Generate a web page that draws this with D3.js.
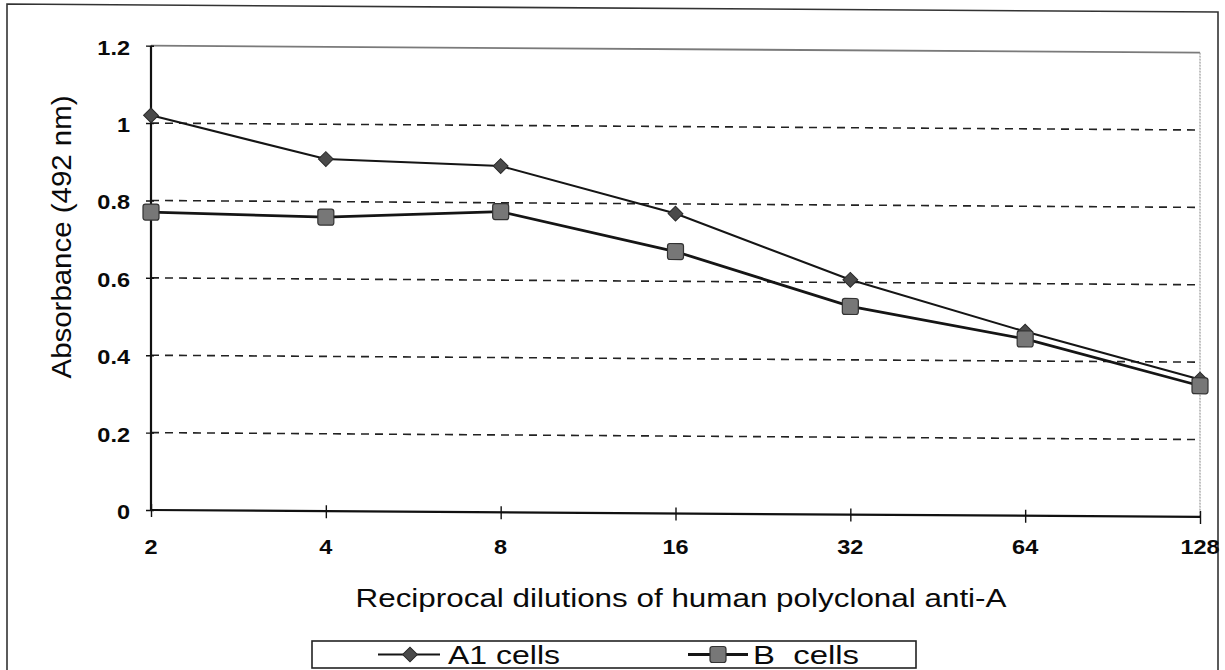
<!DOCTYPE html>
<html>
<head>
<meta charset="utf-8">
<script src="https://cdn.jsdelivr.net/npm/d3@7"></script>
<style>
  html, body { margin: 0; padding: 0; background: #fff; }
  svg { display: block; }
  text { font-family: "Liberation Sans", Arial, sans-serif; fill: #0a0a0a; white-space: pre; }
</style>
</head>
<body>
<svg id="chart" width="1225" height="670"></svg>
<script>
// Reciprocal dilutions (x categories)
const categories = ["2", "4", "8", "16", "32", "64", "128"];
// Absorbance at 492 nm for each cell type
const a1Cells = [1.02, 0.91, 0.895, 0.775, 0.607, 0.476, 0.355];
const bCells  = [0.77, 0.76, 0.777, 0.677, 0.538, 0.457, 0.339];
// Value axis ticks
const yTicks = [0, 0.2, 0.4, 0.6, 0.8, 1.0, 1.2];
const yTickLabels = ["0", "0.2", "0.4", "0.6", "0.8", "1", "1.2"];
const seriesNames = ["A1 cells", "B  cells"];

const svg = d3.select("#chart");
const W = 1225, H = 670;
const plotLeft = 151, plotRight = 1200, plotTop = 45.7, plotBottom = 510;
const slant = 0.0066;         // gentle downward slope of the page to the right
const sx = 1.12;              // horizontally widened lettering

const x = d3.scalePoint().domain(categories).range([plotLeft, plotRight]);
const y = d3.scaleLinear().domain([0, 1.2]).range([plotBottom, plotTop]);

// helper for horizontally widened text
function label(parent, px, py, str, opts = {}) {
  return parent.append("text")
    .attr("transform", `translate(${px},${py}) scale(${opts.sx || sx},1)`)
    .attr("text-anchor", opts.anchor || "middle")
    .attr("font-size", opts.size || 19)
    .attr("font-weight", opts.weight || "normal")
    .text(str);
}

// slanted layer: frame, grid, axes, series
const g = svg.append("g")
  .attr("transform", `matrix(1,${slant},0,1,0,${-slant * plotLeft})`);

// outer border of the figure
g.append("path")
  .attr("d", `M7,${H + 20} L7,5 L1218,5 L1218,${H + 20}`)
  .attr("fill", "none").attr("stroke", "#333").attr("stroke-width", 1.6);

// plot area: top and right edges
g.append("line")
  .attr("x1", plotLeft).attr("x2", plotRight).attr("y1", y(1.2)).attr("y2", y(1.2))
  .attr("stroke", "#7a7a7a").attr("stroke-width", 1.8);
g.append("line")
  .attr("x1", plotRight).attr("x2", plotRight).attr("y1", y(1.2)).attr("y2", y(0))
  .attr("stroke", "#999").attr("stroke-width", 1.2).attr("stroke-dasharray", "2,1");

// dashed gridlines
g.append("g").selectAll("line")
  .data(yTicks.filter(v => v > 0 && v < 1.2))
  .join("line")
  .attr("x1", plotLeft).attr("x2", plotRight)
  .attr("y1", d => y(d)).attr("y2", d => y(d))
  .attr("stroke", "#222").attr("stroke-width", 1.6)
  .attr("stroke-dasharray", "8,6");

// axes
const xAxis = d3.axisBottom(x).tickSize(6).tickFormat("");
const yAxis = d3.axisLeft(y).tickValues(yTicks).tickSize(5).tickFormat("");
const gx = g.append("g").attr("transform", `translate(0,${plotBottom})`).call(xAxis);
const gy = g.append("g").attr("transform", `translate(${plotLeft},0)`).call(yAxis);
[gx, gy].forEach(a => {
  a.select(".domain").attr("stroke", "#111").attr("stroke-width", 2.2);
  a.selectAll(".tick line").attr("stroke", "#111").attr("stroke-width", 1.4);
});
gx.select(".domain").attr("d", `M${plotLeft},0H${plotRight}`);
gy.select(".domain").attr("d", `M0,${plotBottom}V${plotTop}`);
// ticks cross the axis line
gx.selectAll(".tick line").attr("y1", -6).attr("y2", 7);
gy.selectAll(".tick line").attr("x1", -5).attr("x2", 3);

// series lines
const line = d3.line().x((d, i) => x(categories[i])).y(d => y(d));
g.append("path").datum(a1Cells).attr("d", line)
  .attr("fill", "none").attr("stroke", "#151515").attr("stroke-width", 2.1);
g.append("path").datum(bCells).attr("d", line)
  .attr("fill", "none").attr("stroke", "#151515").attr("stroke-width", 2.8);

// markers
const diamond = d3.symbol(d3.symbolSquare, 110);
g.append("g").selectAll("path").data(a1Cells).join("path")
  .attr("d", diamond)
  .attr("transform", (d, i) => `translate(${x(categories[i])},${y(d)}) rotate(45)`)
  .attr("fill", "#4a4a4a").attr("stroke", "#2a2a2a").attr("stroke-width", 1);
g.append("g").selectAll("rect").data(bCells).join("rect")
  .attr("x", (d, i) => x(categories[i]) - 8).attr("y", d => y(d) - 8)
  .attr("width", 16).attr("height", 16).attr("rx", 2.5)
  .attr("fill", "#777").attr("stroke", "#333").attr("stroke-width", 1.2);

// tick labels
categories.forEach(c => label(svg, x(c), 554, c, { weight: "bold", size: 21 }));
yTicks.forEach((v, i) => label(svg, 130, y(v) + 9, yTickLabels[i],
  { weight: "bold", size: 21, anchor: "end" }));

// axis titles
svg.append("text")
  .attr("transform", `translate(681,607)`)
  .attr("text-anchor", "middle").attr("font-size", 25)
  .attr("textLength", 651).attr("lengthAdjust", "spacingAndGlyphs")
  .text("Reciprocal dilutions of human polyclonal anti-A");

svg.append("text")
  .attr("transform", `translate(71,237) rotate(-90) scale(1,1.2)`)
  .attr("text-anchor", "middle").attr("font-size", 23)
  .attr("textLength", 283).attr("lengthAdjust", "spacingAndGlyphs")
  .text("Absorbance (492 nm)");

// legend
const lg = svg.append("g");
lg.append("rect").attr("x", 312).attr("y", 641).attr("width", 604).attr("height", 27)
  .attr("fill", "#fff").attr("stroke", "#222").attr("stroke-width", 1.6);
const ly = 654.5;
lg.append("line").attr("x1", 378).attr("x2", 440).attr("y1", ly).attr("y2", ly)
  .attr("stroke", "#151515").attr("stroke-width", 2.1);
lg.append("path").attr("d", diamond)
  .attr("transform", `translate(410,${ly}) rotate(45)`)
  .attr("fill", "#4a4a4a").attr("stroke", "#2a2a2a");
lg.append("line").attr("x1", 688).attr("x2", 748).attr("y1", ly).attr("y2", ly)
  .attr("stroke", "#151515").attr("stroke-width", 2.8);
lg.append("rect").attr("x", 710).attr("y", ly - 8).attr("width", 16).attr("height", 16)
  .attr("rx", 2.5).attr("fill", "#777").attr("stroke", "#333").attr("stroke-width", 1.2);
lg.append("text").attr("x", 448).attr("y", 664).attr("font-size", 25)
  .attr("textLength", 112).attr("lengthAdjust", "spacingAndGlyphs").text(seriesNames[0]);
lg.append("text").attr("x", 753).attr("y", 664).attr("font-size", 25)
  .attr("textLength", 106).attr("lengthAdjust", "spacingAndGlyphs").text(seriesNames[1]);
</script>
</body>
</html>
